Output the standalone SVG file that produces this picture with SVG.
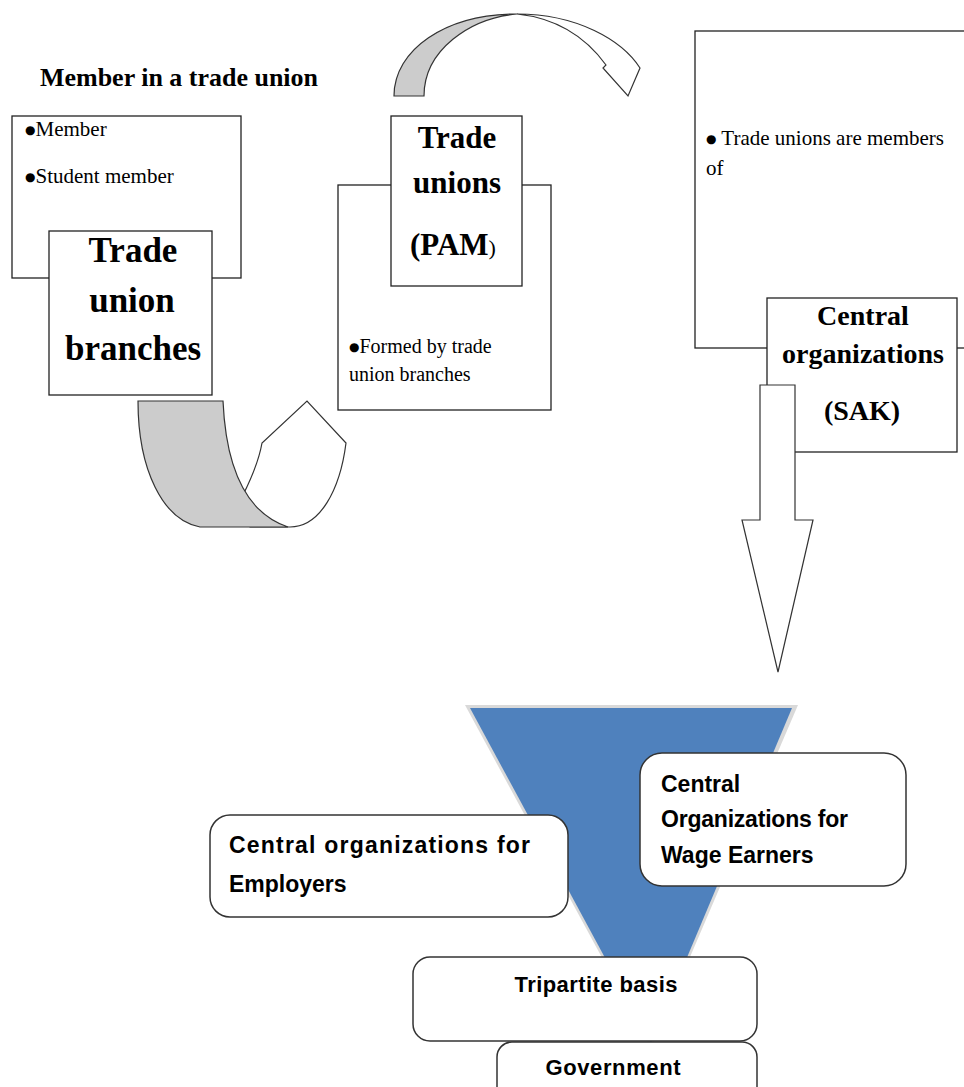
<svg xmlns="http://www.w3.org/2000/svg" width="964" height="1087" viewBox="0 0 964 1087">
<style>
.box{fill:#fff;stroke:#222;stroke-width:1.3}
.rbox{fill:#fff;stroke:#333;stroke-width:1.5}
.ser{font-family:"Liberation Serif","Times New Roman",serif;fill:#000}
.bold{font-weight:bold}
.san{font-family:"Liberation Sans",Arial,sans-serif;font-weight:bold;fill:#000}
.arr{stroke:#333;stroke-width:1.2;stroke-linejoin:miter}
.gray{fill:#cccccc}
.white{fill:#fff}
.bul{font-family:"DejaVu Sans",sans-serif;font-size:12px}
</style>
<rect width="964" height="1087" fill="#fff"/>

<g id="connectors">
  <g id="arrow-top">
    <path class="arr white" d="M517,14 C577,14 622,40 640,68 L628,96 L603,68 L606,65 C585,36 555,18 517,14 Z"/>
    <path class="arr gray" d="M394,96 C394,50 445,14 517,14 C470,18 424,50 424,96 Z"/>
  </g>
  <g id="arrow-bottom-left">
    <path class="arr white" d="M243,495 C253,475 259,460 262,443 L307,401 L346,443 C340,490 320,527 290,527 L250,527 Z"/>
    <path class="arr gray" d="M138,401 L223,401 C226,468 246,513 288,527 L200,527 C163,520 138,470 138,401 Z"/>
  </g>
</g>

<g id="title">
  <text class="ser bold" x="40" y="86" font-size="25" textLength="278" lengthAdjust="spacingAndGlyphs">Member in a trade union</text>
</g>

<g id="member-box">
  <rect class="box" x="12" y="116" width="229" height="162"/>
  <text class="ser" x="25" y="136" font-size="21"><tspan class="bul" dy="-2">●</tspan><tspan dy="2">Member</tspan></text>
  <text class="ser" x="25" y="183" font-size="21"><tspan class="bul" dy="-2">●</tspan><tspan dy="2">Student member</tspan></text>
</g>

<g id="trade-union-branches">
  <rect class="box" x="49" y="231" width="163" height="164"/>
  <text class="ser bold" x="133" y="262" font-size="35" text-anchor="middle">Trade</text>
  <text class="ser bold" x="132" y="312" font-size="35" text-anchor="middle">union</text>
  <text class="ser bold" x="133" y="360" font-size="35" text-anchor="middle">branches</text>
</g>

<g id="formed-box">
  <rect class="box" x="338" y="185" width="213" height="225"/>
  <text class="ser" x="349" y="353" font-size="20"><tspan class="bul" dy="-2">●</tspan><tspan dy="2">Formed by trade</tspan></text>
  <text class="ser" x="349" y="381" font-size="20">union branches</text>
</g>

<g id="trade-unions-pam">
  <rect class="box" x="391" y="116" width="131" height="170"/>
  <text class="ser bold" x="457" y="148" font-size="31" text-anchor="middle">Trade</text>
  <text class="ser bold" x="457" y="193" font-size="31" text-anchor="middle">unions</text>
  <text class="ser" x="410" y="255" font-size="31"><tspan class="bold">(PAM</tspan><tspan font-size="22">)</tspan></text>
</g>

<g id="members-of-box">
  <rect class="box" x="695" y="31" width="285" height="317"/>
  <text class="ser" x="706" y="145" font-size="21"><tspan class="bul" dy="-2">●</tspan><tspan dy="2"> Trade unions are members</tspan></text>
  <text class="ser" x="706" y="175" font-size="21">of</text>
</g>

<g id="central-organizations-sak">
  <rect class="box" x="767" y="298" width="190" height="154"/>
  <text class="ser bold" x="863" y="325" font-size="28" text-anchor="middle">Central</text>
  <text class="ser bold" x="863" y="363" font-size="28" text-anchor="middle">organizations</text>
  <text class="ser bold" x="862" y="420" font-size="28" text-anchor="middle">(SAK)</text>
</g>

<g id="arrow-down">
  <polygon class="arr white" points="760,385 795,385 795,520 813,520 778,672 742,520 760,520"/>
</g>

<g id="funnel">
  <polygon points="465,705 798,705 651,1048" fill="#d9d9d9"/>
  <polygon points="470,708 792,708 651,1043" fill="#4F81BD"/>
</g>

<g id="employers">
  <rect class="rbox" x="210" y="815" width="358" height="102" rx="20" ry="20"/>
  <text class="san" x="229" y="853" font-size="23" textLength="301">Central organizations  for</text>
  <text class="san" x="229" y="892" font-size="23">Employers</text>
</g>

<g id="wage-earners">
  <rect class="rbox" x="640" y="753" width="266" height="133" rx="22" ry="22"/>
  <text class="san" x="661" y="792" font-size="23">Central</text>
  <text class="san" x="661" y="827" font-size="23" textLength="187">Organizations for</text>
  <text class="san" x="661" y="863" font-size="23">Wage Earners</text>
</g>

<g id="tripartite">
  <rect class="rbox" x="413" y="957" width="344" height="84" rx="17" ry="17"/>
  <text class="san" x="596" y="992" font-size="22" text-anchor="middle" textLength="163">Tripartite basis</text>
</g>

<g id="government">
  <rect class="rbox" x="497" y="1042" width="260" height="70" rx="15" ry="15"/>
  <text class="san" x="613" y="1075" font-size="22" text-anchor="middle" textLength="135">Government</text>
</g>
</svg>
